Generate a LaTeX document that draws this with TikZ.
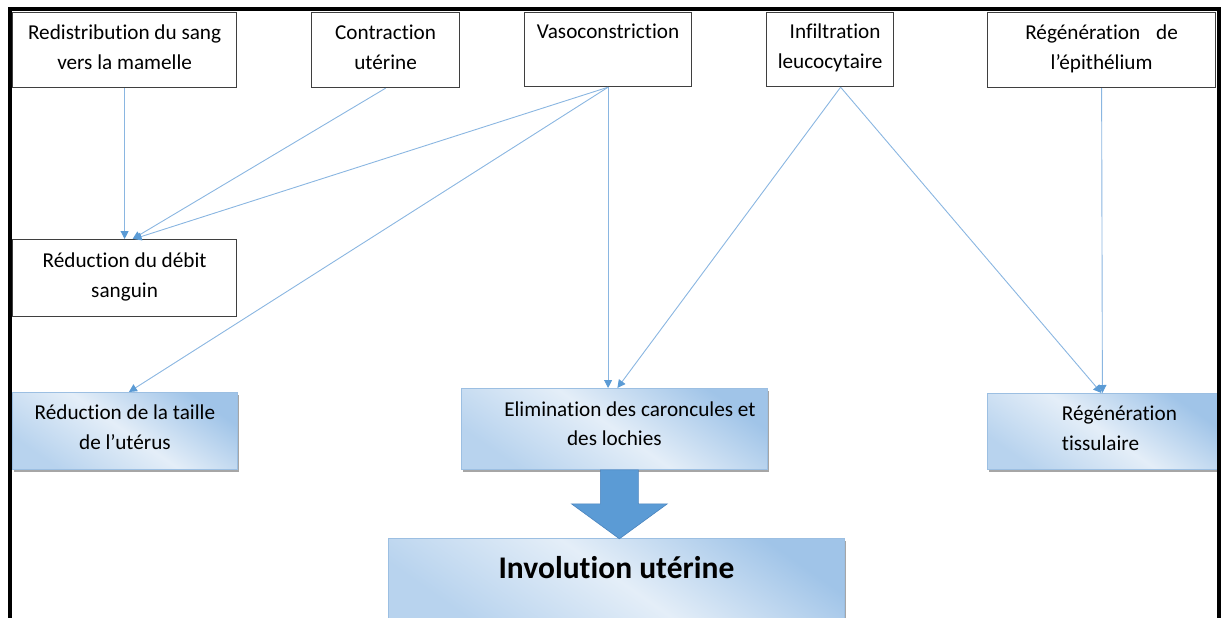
\documentclass[tikz,border=0pt]{standalone}
\usepackage{fontspec}
\setmainfont{Carlito}[Ligatures={NoCommon}]
\usetikzlibrary{calc,arrows.meta,shadows}
\definecolor{lineblue}{HTML}{8AB6E1}
\definecolor{headblue}{HTML}{5B9BD5}
\definecolor{boxgray}{HTML}{3F3F3F}
\definecolor{gB}{HTML}{A0C4E8}
\definecolor{gL}{HTML}{E4EEF8}
\definecolor{gB2}{HTML}{B8D3EE}
\definecolor{gborder}{HTML}{9CBFE2}
\definecolor{arrfill}{HTML}{5B9BD5}
\definecolor{arrdraw}{HTML}{4A84BE}
\pgfdeclareverticalshading{ofc}{100bp}{color(0bp)=(gB2); color(25bp)=(gB2); color(50bp)=(gL); color(75bp)=(gB); color(100bp)=(gB)}
\newcommand{\ls}{\rule[-9pt]{0pt}{26pt}}
\begin{document}
\begin{tikzpicture}[x=1pt,y=-1pt,
  every node/.style={font=\fontsize{21.2}{30}\selectfont},
  plainbox/.style={draw=boxgray, line width=1.2pt, fill=white, inner sep=0pt, align=center, anchor=north west},
  gradbox/.style={draw=gborder, line width=0.8pt, shading=ofc, shading angle=-35, inner sep=0pt, align=center, anchor=north west,
     drop shadow={shadow xshift=2pt, shadow yshift=-2.5pt, fill=black, opacity=0.35}},
  conn/.style={draw=lineblue, line width=0.9pt, -{Triangle[length=8pt,width=8pt,color=headblue]}},
  frameline/.style={line width=4.8pt, black, line join=miter}
]
\useasboundingbox (0,0) rectangle (1221,618);

% top boxes
\node[plainbox, minimum width=224pt, minimum height=75pt] (A) at (12,12) {\ls Redistribution du sang\\\ls vers la mamelle};
\node[plainbox, minimum width=148pt, minimum height=75pt] (B) at (311,12) {\ls Contraction\\\ls utérine};
\node[plainbox, minimum width=167pt, minimum height=74pt] (C) at (524,12) {\ls Vasoconstriction\\\ls};
\node[plainbox, minimum width=127pt, minimum height=74pt] (D) at (766,12) {\ls\hspace*{10pt}Infiltration\\\ls leucocytaire};
\node[plainbox, minimum width=228pt, minimum height=75pt] (E) at (987,12) {\ls Régénération\hspace{16pt}de\\\ls l’épithélium};

% middle / lower boxes
\node[plainbox, minimum width=224pt, minimum height=77pt] (F) at (12,239) {\ls Réduction du débit\\\ls sanguin};
\node[gradbox, minimum width=225pt, minimum height=77pt] (G) at (12,392) {\ls Réduction de la taille\\\ls de l’utérus};
\node[gradbox, minimum width=306pt, minimum height=81pt] (H) at (461,388) {\ls\hspace*{31pt}Elimination des caroncules et\\[-1pt]\rule[-13pt]{0pt}{26pt}des lochies};
\node[gradbox, minimum width=230pt, minimum height=76pt, align=left] (I) at (987,393) {\ls\hspace*{34pt}Régénération\\\ls\hspace*{34pt}tissulaire};
\node[gradbox, minimum width=456pt, minimum height=80pt, font=\fontsize{31.5}{22}\selectfont\bfseries] (J) at (388,538) {Involution utérine\\\mbox{}};

% connectors
\draw[conn] (A.south) -- (F.north);
\draw[conn] (B.south) -- ([xshift=8pt]F.north);
\draw[conn] (C.south) -- ([xshift=9pt]F.north);
\draw[conn] (C.south) -- ([xshift=4pt]G.north);
\draw[conn] (C.south) -- (C.south |- H.north);
\draw[conn] ([xshift=10.5pt]D.south) -- ([xshift=3pt]H.north);
\draw[conn] ([xshift=10.5pt]D.south) -- ([xshift=-1pt]I.north);
\draw[conn] (E.south) -- (I.north);

% big block arrow
\filldraw[fill=arrfill, draw=arrdraw, line width=0.6pt]
  ($(H.south)+(-14,0)$) -- ($(H.south)+(24,0)$) -- ($(H.south)+(24,34)$) -- ($(H.south)+(53,34)$)
  -- ($(H.south)+(5,69)$) -- ($(H.south)+(-43,34)$) -- ($(H.south)+(-14,34)$) -- cycle;

% outer frame (open at the bottom)
\draw[frameline] (10,618) -- (10,9) -- (1219,9) -- (1219,618);
\end{tikzpicture}
\end{document}
